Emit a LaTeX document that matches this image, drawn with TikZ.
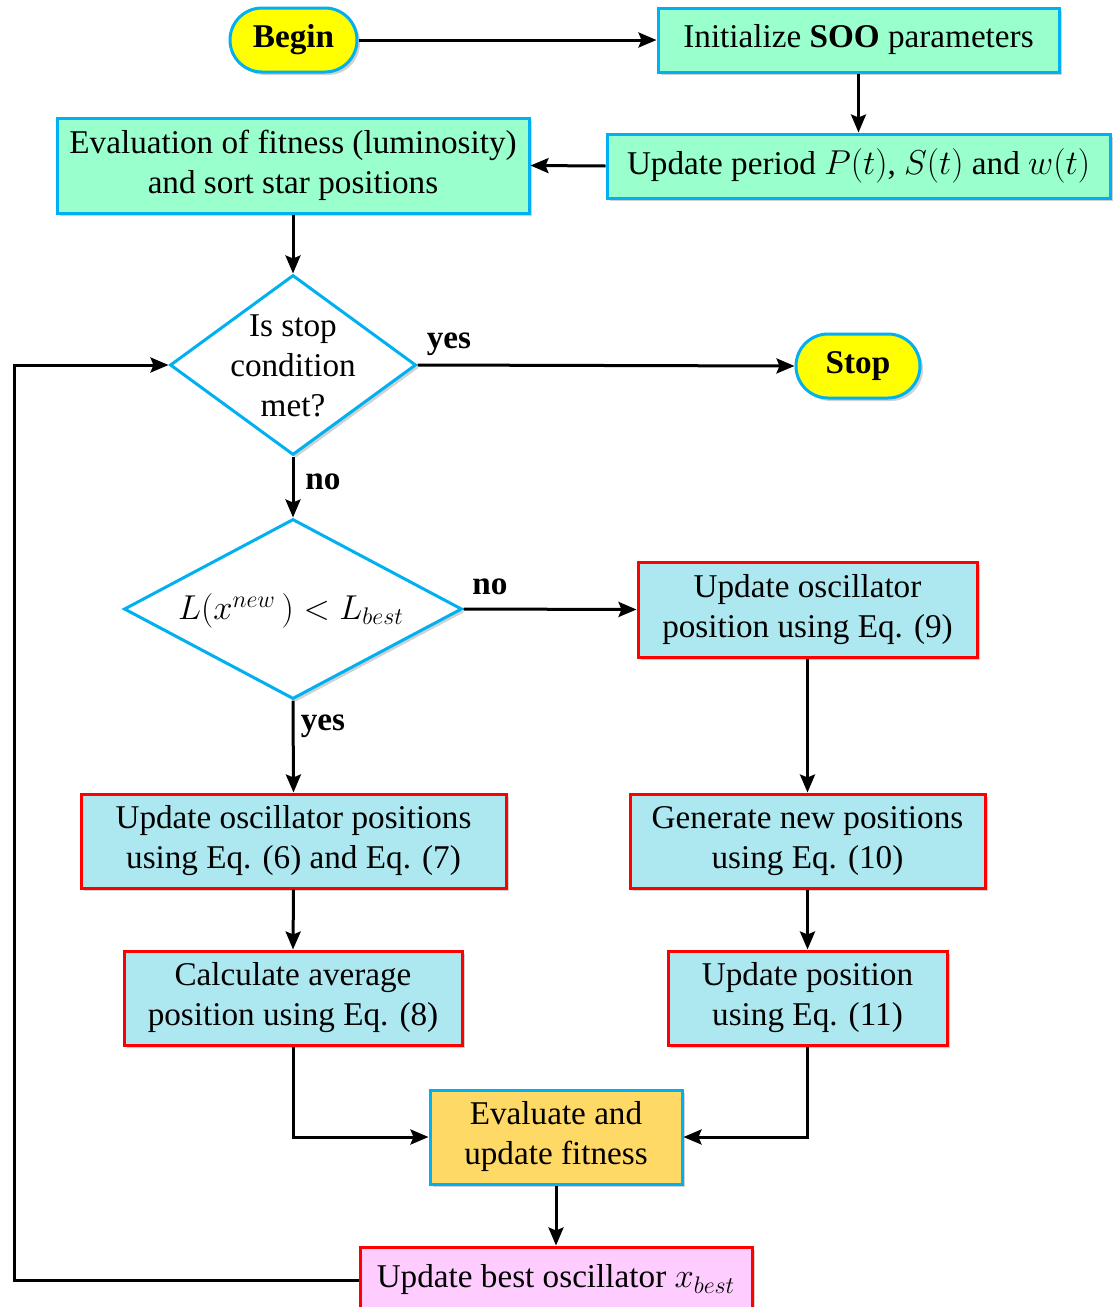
\documentclass[tikz,border=0pt]{standalone}
\usepackage{fontspec}
\setmainfont{Liberation Serif}
\usetikzlibrary{shapes.geometric,arrows.meta,shadows}
\definecolor{cyanb}{RGB}{0,176,240}
\definecolor{greenf}{RGB}{153,255,204}
\definecolor{bluef}{RGB}{173,232,240}
\definecolor{orangef}{RGB}{255,217,102}
\definecolor{pinkf}{RGB}{255,204,255}
\definecolor{yellf}{RGB}{255,255,0}
\begin{document}
\begin{tikzpicture}[x=0.5pt,y=-0.5pt,
  font=\fontsize{16.6}{20}\selectfont,
  shd/.style={drop shadow={shadow xshift=1.5pt,shadow yshift=-1.5pt,fill=black!18,opacity=1}},
  gbox/.style={draw=cyanb,fill=greenf,line width=1.5pt,shd,align=center,inner sep=0pt},
  rbox/.style={draw=red,fill=bluef,line width=1.5pt,shd,align=center,inner sep=0pt},
  obox/.style={draw=cyanb,fill=orangef,line width=1.5pt,shd,align=center,inner sep=0pt},
  pbox/.style={draw=red,fill=pinkf,line width=1.5pt,shd,align=center,inner sep=0pt},
  term/.style={draw=cyanb,fill=yellf,line width=1.5pt,rounded corners=16pt,shd,
    font=\fontsize{16.6}{20}\selectfont\bfseries,minimum height=32pt,inner sep=0pt},
  dia/.style={diamond,draw=cyanb,fill=white,line width=1.5pt,inner sep=0pt,shd},
  arr/.style={line width=1.5pt,-{Stealth[length=9pt,width=7.5pt,inset=1.5pt]}},
  lbl/.style={font=\fontsize{16.6}{20}\selectfont\bfseries,inner sep=0pt}
]
\useasboundingbox (0,0) rectangle (1117,1307);

% nodes
\node[term,minimum width=63.5pt] (begin) at (293.5,40) {Begin};
\node[gbox,minimum width=200.5pt,minimum height=32pt] (init) at (858.5,40) {Initialize \textbf{SOO} parameters};
\node[gbox,minimum width=251.5pt,minimum height=32pt] (upd) at (858.5,166) {Update period $P(t)$, $S(t)$ and $w(t)$};
\node[gbox,minimum width=236pt,minimum height=47.5pt] (evalf) at (293,165.5) {Evaluation of fitness (luminosity)\\and sort star positions};

\node[dia,minimum width=123pt,minimum height=90pt] (d1) at (293,365) {};
\node[align=center,inner sep=0pt] (d1t) at (293,366) {Is stop\\condition\\met?};
\node[term,minimum width=62pt] (stop) at (858,366) {Stop};

\node[dia,minimum width=169pt,minimum height=90pt] (d2) at (293,609) {};
\node[inner sep=0pt] (d2t) at (291,611) {$L(x^{new}\,)<L_{best}$};

\node[rbox,minimum width=169.5pt,minimum height=47.5pt] (eq9) at (807.5,609.5) {Update oscillator\\position using Eq. (9)};
\node[rbox,minimum width=212.5pt,minimum height=47pt] (eq67) at (293.5,841) {Update oscillator positions\\using Eq. (6) and Eq. (7)};
\node[rbox,minimum width=177.5pt,minimum height=47pt] (eq10) at (807.5,841) {Generate new positions\\using Eq. (10)};
\node[rbox,minimum width=169pt,minimum height=47pt] (eq8) at (293,998) {Calculate average\\position using Eq. (8)};
\node[rbox,minimum width=139.5pt,minimum height=47pt] (eq11) at (807.5,998) {Update position\\using Eq. (11)};
\node[obox,minimum width=126pt,minimum height=47pt] (evalu) at (556,1137) {Evaluate and\\update fitness};
\node[pbox,minimum width=196pt,minimum height=33pt] (best) at (556,1280) {Update best oscillator $x_{best}$};

% labels
\node[lbl] (lyes1) at (449,344) {yes};
\node[lbl] (lno1) at (323,482) {no};
\node[lbl] (lno2) at (490,587) {no};
\node[lbl] (lyes2) at (323,726) {yes};

% connectors
\draw[arr] (begin.east) -- (init.west);
\draw[arr] (init.south) -- (upd.north);
\draw[arr] (upd.west) -- (evalf.east);
\draw[arr] (evalf.south) -- (d1.north);
\draw[arr] (d1.east) -- (stop.west);
\draw[arr] (d1.south) -- (d2.north);
\draw[arr] (d2.east) -- (eq9.west);
\draw[arr] (d2.south) -- (eq67.north);
\draw[arr] (eq9.south) -- (eq10.north);
\draw[arr] (eq10.south) -- (eq11.north);
\draw[arr] (eq67.south) -- (eq8.north);
\draw[arr] (eq8.south) |- (evalu.west);
\draw[arr] (eq11.south) |- (evalu.east);
\draw[arr] (evalu.south) -- (best.north);
\coordinate (fb) at (14,365);
\draw[arr] (best.west) -| (fb) -- (d1.west);
\end{tikzpicture}
\end{document}
